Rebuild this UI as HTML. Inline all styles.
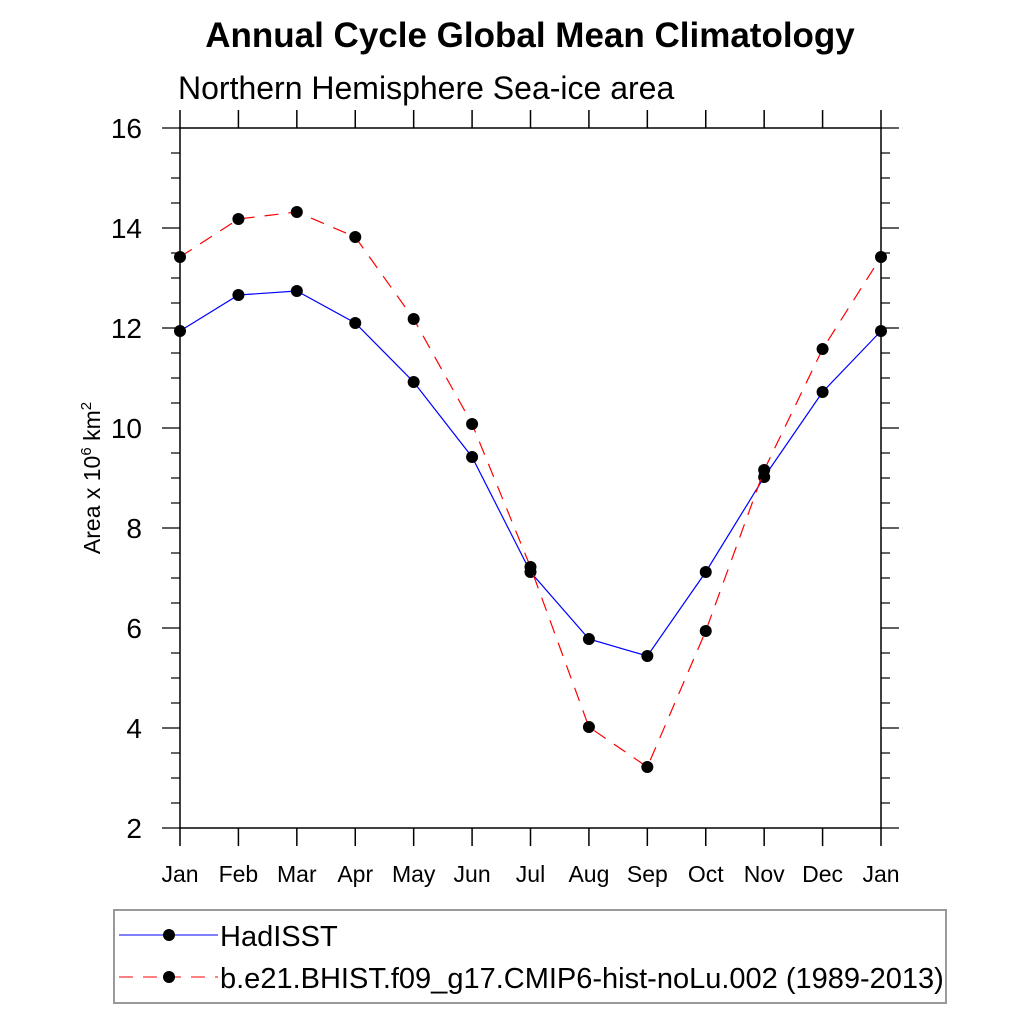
<!DOCTYPE html>
<html><head><meta charset="utf-8"><style>
html,body{margin:0;padding:0;background:#fff;}
svg{display:block;font-family:"Liberation Sans",sans-serif;}
</style></head><body>
<svg id="chart" width="1024" height="1024" viewBox="0 0 1024 1024">
<text x="530" y="47" text-anchor="middle" font-size="35" font-weight="bold">Annual Cycle Global Mean Climatology</text>
<text x="178" y="99" font-size="32">Northern Hemisphere Sea-ice area</text>
<text transform="translate(100,478) rotate(-90)" text-anchor="middle" font-size="23">Area x 10<tspan dy="-9" font-size="15">6</tspan><tspan dy="9"> km</tspan><tspan dy="-9" font-size="15">2</tspan></text>
<g id="axes"></g>
<g id="series"></g>
<g>
<rect x="114" y="910" width="832" height="93" fill="none" stroke="#999" stroke-width="2"/>
<g>
<line x1="119" y1="935" x2="218" y2="935" stroke="#00f" stroke-width="1"/>
<circle cx="169" cy="935" r="6" fill="#000"/>
<text x="220" y="946" font-size="29">HadISST</text></g>
<g>
<line x1="119" y1="977" x2="218" y2="977" stroke="#f00" stroke-width="1" stroke-dasharray="14,10"/>
<circle cx="169" cy="977" r="6" fill="#000"/>
<text x="220" y="988" font-size="29">b.e21.BHIST.f09_g17.CMIP6-hist-noLu.002 (1989-2013)</text></g>
</g>
</svg>
<script>
const months=["Jan","Feb","Mar","Apr","May","Jun","Jul","Aug","Sep","Oct","Nov","Dec","Jan"];
const yTicks=[2,4,6,8,10,12,14,16];
const hadisst=[11.94,12.66,12.74,12.1,10.92,9.42,7.12,5.78,5.44,7.12,9.02,10.72,11.94];
const cmip6=[13.42,14.18,14.32,13.82,12.18,10.08,7.22,4.02,3.22,5.94,9.16,11.58,13.42];
const L=180,R=881,T=128,B=828;
const xs=i=>L+(R-L)*i/(months.length-1);
const ys=v=>B-(v-2)/(16-2)*(B-T);
const NS="http://www.w3.org/2000/svg";
function mk(tag,attrs,parent){const e=document.createElementNS(NS,tag);for(const k in attrs)e.setAttribute(k,attrs[k]);parent.appendChild(e);return e;}
const ax=document.getElementById('axes');
const frame=mk('rect',{x:L,y:T,width:R-L,height:B-T,fill:'none',stroke:'#000','stroke-width':1.5},ax);


months.forEach((m,i)=>{
 const x=xs(i);
 mk('line',{x1:x,y1:B,x2:x,y2:B+18,stroke:'#000','stroke-width':1.5},ax);
 mk('line',{x1:x,y1:T,x2:x,y2:T-18,stroke:'#000','stroke-width':1.5},ax);
 const t=mk('text',{x:x,y:882,'text-anchor':'middle','font-size':23},ax);
 t.textContent=m;
 
 
});
for(let v=2;v<=16.001;v+=0.5){
 const y=ys(v);const major=Math.abs(v-Math.round(v/2)*2)<1e-6;
 const len=major?18:9;
 mk('line',{x1:L,y1:y,x2:L-len,y2:y,stroke:'#000','stroke-width':1.2},ax);
 mk('line',{x1:R,y1:y,x2:R+len,y2:y,stroke:'#000','stroke-width':1.2},ax);
}
yTicks.forEach(v=>{
 const t=mk('text',{x:142,y:ys(v)+10,'text-anchor':'end','font-size':28},ax);
 t.textContent=v;
 
 
});
const sg=document.getElementById('series');
function series(vals,color,dash,name){
 const g=mk('g',{},sg);
 
 
 const p=mk('polyline',{points:vals.map((v,i)=>xs(i)+','+ys(v)).join(' '),fill:'none',stroke:color,'stroke-width':1.2},g);
 if(dash)p.setAttribute('stroke-dasharray',dash);
 vals.forEach((v,i)=>{
  const c=mk('circle',{cx:xs(i),cy:ys(v),r:6,fill:'#000'},g);
  
  
 });
}
series(hadisst,'#00f',null,'hadisst-series');
series(cmip6,'#f00','14,10','cmip6-series');
</script>
</body></html>
